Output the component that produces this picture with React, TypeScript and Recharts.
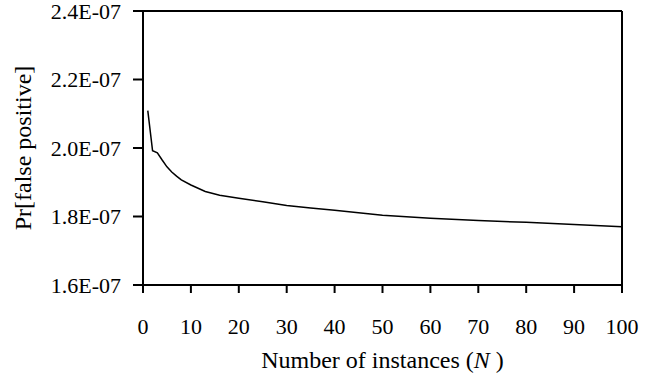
import React from "react";
import { LineChart, Line, XAxis, YAxis, ReferenceLine, Label } from "recharts";

const instances = [1, 2, 3, 4, 5, 6, 7, 8, 10, 13, 16, 20, 25, 30, 35, 40, 45, 50, 60, 70, 80, 90, 100];
const falsePositive = [
  2.109e-7, 1.992e-7, 1.986e-7, 1.965e-7, 1.945e-7, 1.93e-7, 1.918e-7, 1.907e-7, 1.892e-7, 1.873e-7,
  1.862e-7, 1.853e-7, 1.843e-7, 1.832e-7, 1.825e-7, 1.818e-7, 1.811e-7, 1.804e-7, 1.795e-7, 1.788e-7,
  1.783e-7, 1.777e-7, 1.77e-7,
];
const xTicks = [0, 10, 20, 30, 40, 50, 60, 70, 80, 90, 100];
const yTicks = [1.6e-7, 1.8e-7, 2.0e-7, 2.2e-7, 2.4e-7];
const yTickLabels = ["1.6E-07", "1.8E-07", "2.0E-07", "2.2E-07", "2.4E-07"];

const data = instances.map((n, i) => ({ n, p: falsePositive[i] }));

const FONT = "Liberation Serif";

const XTitle = (props: any) => {
  const vb = props.viewBox || {};
  const cx = vb.x + vb.width / 2;
  return (
    <text x={cx} y={vb.y + 83} textAnchor="middle" style={{ fontFamily: FONT, fontSize: 24 }} fill="#000">
      Number of instances (<tspan fontStyle="italic">N</tspan> )
    </text>
  );
};

const YTitle = (props: any) => {
  const vb = props.viewBox || {};
  const cy = vb.y + vb.height / 2;
  const x = 31;
  return (
    <text x={x} y={cy} textAnchor="middle" style={{ fontFamily: FONT, fontSize: 24 }} fill="#000" transform={`rotate(-90 ${x} ${cy})`}>
      Pr[false positive]
    </text>
  );
};

export default function App() {
  return (
    <div style={{ position: "absolute", left: 0, top: 0, background: "#fff", fontFamily: FONT }}>
      <LineChart width={655} height={377} data={data} margin={{ top: 11, right: 33, bottom: 0, left: 0 }} style={{ fontFamily: FONT }}>
        <XAxis
          dataKey="n"
          type="number"
          domain={[0, 100]}
          ticks={xTicks}
          interval={0}
          height={92}
          axisLine={{ stroke: "#000", strokeWidth: 2 }}
          tickLine={{ stroke: "#000", strokeWidth: 2 }}
          tickSize={8}
          tickMargin={25}
          tick={{ fill: "#000", fontSize: 22, style: { fontFamily: FONT } }}
        >
          <Label content={<XTitle />} />
        </XAxis>
        <YAxis
          type="number"
          domain={[1.6e-7, 2.4e-7]}
          ticks={yTicks}
          interval={0}
          width={143}
          axisLine={{ stroke: "#000", strokeWidth: 2 }}
          tickLine={{ stroke: "#000", strokeWidth: 2 }}
          tickSize={10}
          tickMargin={12}
          tickFormatter={(v: number) => {
            const i = yTicks.findIndex((t) => Math.abs(t - v) < 1e-12);
            return i >= 0 ? yTickLabels[i] : "";
          }}
          tick={{ fill: "#000", fontSize: 22, style: { fontFamily: FONT } }}
        >
          <Label content={<YTitle />} />
        </YAxis>
        <ReferenceLine y={2.4e-7} stroke="#000" strokeWidth={2} ifOverflow="visible" />
        <ReferenceLine x={100} stroke="#000" strokeWidth={2} ifOverflow="visible" />
        <Line type="linear" dataKey="p" stroke="#000" strokeWidth={1.5} dot={false} isAnimationActive={false} />
      </LineChart>
    </div>
  );
}
